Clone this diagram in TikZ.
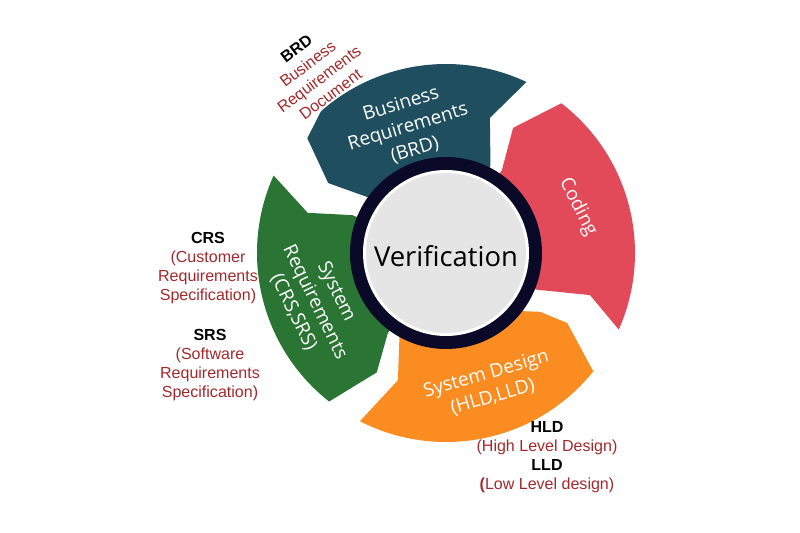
\documentclass[tikz,border=0pt]{standalone}
\usepackage{fontspec}
\setmainfont{Liberation Sans}
\newfontfamily\segfont{Open Sans}
\definecolor{brdblue}{RGB}{31,78,95}
\definecolor{codred}{RGB}{226,74,89}
\definecolor{srsgreen}{RGB}{43,117,52}
\definecolor{hldorange}{RGB}{250,140,34}
\definecolor{ringdark}{RGB}{10,10,40}
\definecolor{notered}{RGB}{163,40,43}

\begin{document}
\begin{tikzpicture}[scale=0.025,
  seg/.style={text=white,align=center,font=\segfont\fontsize{13.5}{17}\selectfont},
  note/.style={text=notered,align=center,font=\fontsize{11.4}{13.5}\selectfont}]
\useasboundingbox (-446,-280) rectangle (354,253);

% arrows round the circle
\fill[codred] (-23.9:189) arc[start angle=-23.9,end angle=52.4,radius=189] -- (61.8:142) -- (56:100) -- (56:90) arc[start angle=56,end angle=-22,radius=90] -- (-22:98) -- (-16.3:150) -- cycle;
\fill[brdblue] (64.8:189) arc[start angle=64.8,end angle=131.4,radius=189] -- (140.4:180) -- (149.3:137) -- (143.4:90) arc[start angle=143.4,end angle=63,radius=90] -- (63:98) -- (72:142) -- cycle;
\fill[srsgreen] (155.8:189) arc[start angle=155.8,end angle=231.8,radius=189] -- (239.9:138) -- (234:99) -- (234:90) arc[start angle=234,end angle=158,radius=90] -- (158:101) -- (163.8:144) -- cycle;
\fill[hldorange] (242.9:189) arc[start angle=242.9,end angle=321.2,radius=189] -- (330:140) -- (328:111) -- (320:90) arc[start angle=320,end angle=241,radius=90] -- (241:96) -- (249.3:136) -- cycle;

% centre
\fill[ringdark] (0,0) circle (96);
\fill[white] (0,0) circle (83);
\fill[gray!20] (0,0) circle (80);
\node[font=\segfont\fontsize{19.5}{22}\selectfont] (verif) at (0,-3) {Verification};

\node[seg,rotate=17] (brd) at (-38,126) {Business\\Requirements\\(BRD)};
\node[seg,rotate=-63] (coding) at (132,46) {Coding};
\node[seg,rotate=-64] (sysreq) at (-131,-49) {System\\Requirements\\(CRS,SRS)};
\node[seg,rotate=16] (sysdes) at (43.5,-132.5) {System Design\\(HLD,LLD)};

% notes
\node[note,rotate=37] (brdnote) at (-132.5,181.5) {\textcolor{black}{\textbf{BRD}}\\Business\\Requirements\\Document};
\node[note] (crsnote) at (-238,-15.5) {\textcolor{black}{\textbf{CRS}}\\(Customer\\Requirements\\Specification)};
\node[note] (srsnote) at (-236,-112.5) {\textcolor{black}{\textbf{SRS}}\\(Software\\Requirements\\Specification)};
\node[note] (hldnote) at (101,-204.5) {\textcolor{black}{\textbf{HLD}}\\(High Level Design)\\\textcolor{black}{\textbf{LLD}}\\\textbf{(}Low Level design)};
\end{tikzpicture}
\end{document}
